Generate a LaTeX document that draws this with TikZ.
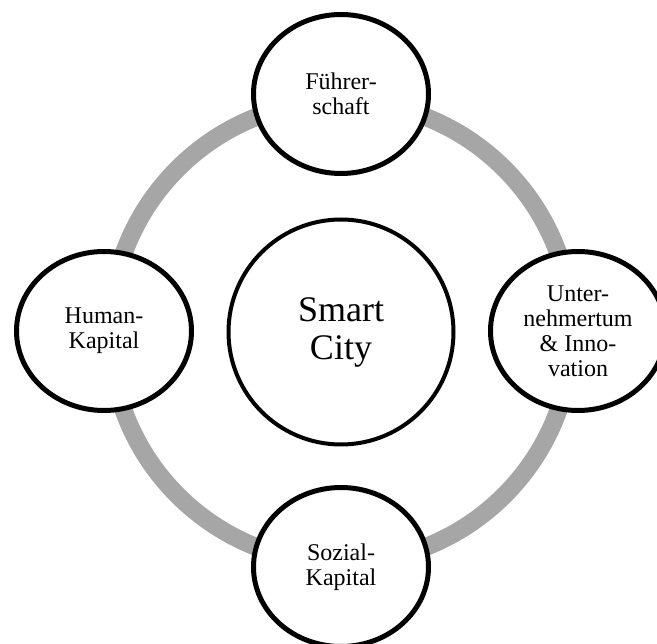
\documentclass[tikz,border=0pt]{standalone}
\usepackage{fontspec}
\setmainfont{Liberation Serif}
\usetikzlibrary{shapes.geometric,backgrounds}
\definecolor{RingGray}{HTML}{A6A6A6}

\begin{document}
\begin{tikzpicture}[x=1pt,y=-1pt,
  pillar/.style={ellipse,draw=black,line width=5pt,fill=white,
    minimum width=175pt,minimum height=159pt,inner sep=0pt,
    align=center,font=\fontsize{24}{25}\selectfont},
  hub/.style={circle,draw=black,line width=4pt,fill=white,
    minimum size=225pt,inner sep=0pt,
    align=center,font=\fontsize{36}{38}\selectfont}]
  \useasboundingbox (0,0) rectangle (657,644);
  \clip (0,0) rectangle (657,644);

  % Smart City (centre)
  \node[hub] (city) at (341,332) {Smart\\City};

  % Leadership (top)
  \node[pillar] (lead) at (341,94) {Führer-\\schaft};

  % Human capital (left)
  \node[pillar] (human) at (104,331) {Human-\\Kapital};

  % Entrepreneurship (right)
  \node[pillar] (entre) at (578,331) {Unter-\\nehmertum\\\& Inno-\\vation};

  % Social capital (bottom)
  \node[pillar] (social) at (341,567) {Sozial-\\Kapital};

  % grey ring behind the pillars
  \begin{scope}[on background layer]
    \draw[RingGray,line width=18pt] (city.center) circle (231pt);
  \end{scope}
\end{tikzpicture}
\end{document}
